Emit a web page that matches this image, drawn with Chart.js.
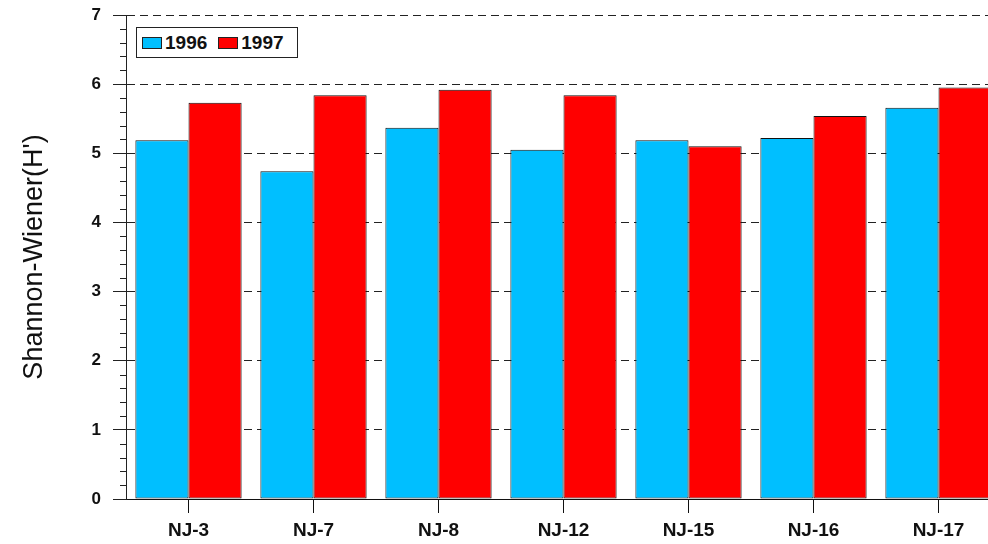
<!DOCTYPE html>
<html>
<head>
<meta charset="utf-8">
<script src="https://cdn.jsdelivr.net/npm/chart.js@4"></script>
<style>
  body { margin: 0; overflow: hidden; background: #fff; }
  #wrap { position: relative; width: 1010px; height: 544px; }
  #legend {
    position: absolute; left: 136px; top: 27px; width: 155px; height: 29px;
    border: 1px solid #222; background: #fff;
    font: bold 19px "Liberation Sans", Arial, sans-serif; color: #111;
    display: flex; align-items: center; padding-left: 5px; box-sizing: content-box;
  }
  #legend span.box { display: inline-block; width: 18px; height: 10px; border: 1px solid #222; margin-right: 3px; }
  #legend span.item { display: inline-flex; align-items: center; margin-right: 11px; }
</style>
</head>
<body>
<div id="wrap">
  <canvas id="chart" width="1010" height="544"></canvas>
  <div id="legend"></div>
</div>
<script>
// Dados
const sites = ['NJ-3', 'NJ-7', 'NJ-8', 'NJ-12', 'NJ-15', 'NJ-16', 'NJ-17'];
const h1996 = [5.19, 4.74, 5.37, 5.05, 5.19, 5.22, 5.66];
const h1997 = [5.73, 5.84, 5.92, 5.84, 5.10, 5.54, 5.95];
const years = ['1996', '1997'];
const yearColors = ['#00BFFF', '#FF0000'];
const yTicks = [0, 1, 2, 3, 4, 5, 6, 7];

const FONT = '"Liberation Sans", Arial, sans-serif';

// Traços menores no eixo Y (4 entre cada maior)
const minorTicks = {
  id: 'minorTicks',
  afterDraw(chart) {
    const y = chart.scales.y;
    const ctx = chart.ctx;
    const left = chart.chartArea.left;
    ctx.save();
    ctx.strokeStyle = '#222';
    ctx.lineWidth = 1;
    for (let i = 0; i < yTicks.length - 1; i++) {
      for (let k = 1; k < 5; k++) {
        const py = Math.round(y.getPixelForValue(yTicks[i] + k / 5)) + 0.5;
        ctx.beginPath();
        ctx.moveTo(left - 6, py);
        ctx.lineTo(left, py);
        ctx.stroke();
      }
    }
    ctx.restore();
  }
};

const chart = new Chart(document.getElementById('chart'), {
  type: 'bar',
  data: {
    labels: sites,
    datasets: [
      { label: years[0], data: h1996, backgroundColor: yearColors[0], borderColor: '#111', borderWidth: 1, borderSkipped: false },
      { label: years[1], data: h1997, backgroundColor: yearColors[1], borderColor: '#111', borderWidth: 1, borderSkipped: false }
    ]
  },
  options: {
    responsive: false,
    animation: false,
    layout: { padding: { top: 15, right: 9, left: 0, bottom: 0 } },
    datasets: { bar: { categoryPercentage: 0.85, barPercentage: 1 } },
    plugins: { legend: { display: false }, tooltip: { enabled: false } },
    scales: {
      x: {
        grid: { offset: false, drawOnChartArea: false, tickLength: 14, tickColor: '#111', tickWidth: 1 },
        border: { color: '#111', width: 1 },
        ticks: { color: '#111', padding: 6, font: { family: FONT, size: 19, weight: 'bold' } },
        afterFit(scale) { scale.height = 45; }
      },
      y: {
        min: 0,
        max: 7,
        ticks: { stepSize: 1, color: '#111', padding: 12, font: { family: FONT, size: 17, weight: 'bold' } },
        grid: { color: '#222', lineWidth: 1, tickLength: 13, tickColor: '#222', tickBorderDash: [] },
        border: { color: '#222', width: 1, dash: [8, 5] },
        title: {
          display: true,
          text: "Shannon-Wiener(H')",
          color: '#111',
          padding: { top: 18, bottom: 0 },
          font: { family: FONT, size: 27, weight: 'normal' }
        },
        afterFit(scale) {
          scale.width = 126;
          scale.paddingTop = 0;
          scale.paddingBottom = 0;
        }
      }
    }
  },
  plugins: [minorTicks]
});

// Legenda em HTML dentro da área do gráfico
const legend = document.getElementById('legend');
years.forEach((yr, i) => {
  const item = document.createElement('span');
  item.className = 'item';
  item.innerHTML = `<span class="box" style="background:${yearColors[i]}"></span>${yr}`;
  legend.appendChild(item);
});
</script>
</body>
</html>
